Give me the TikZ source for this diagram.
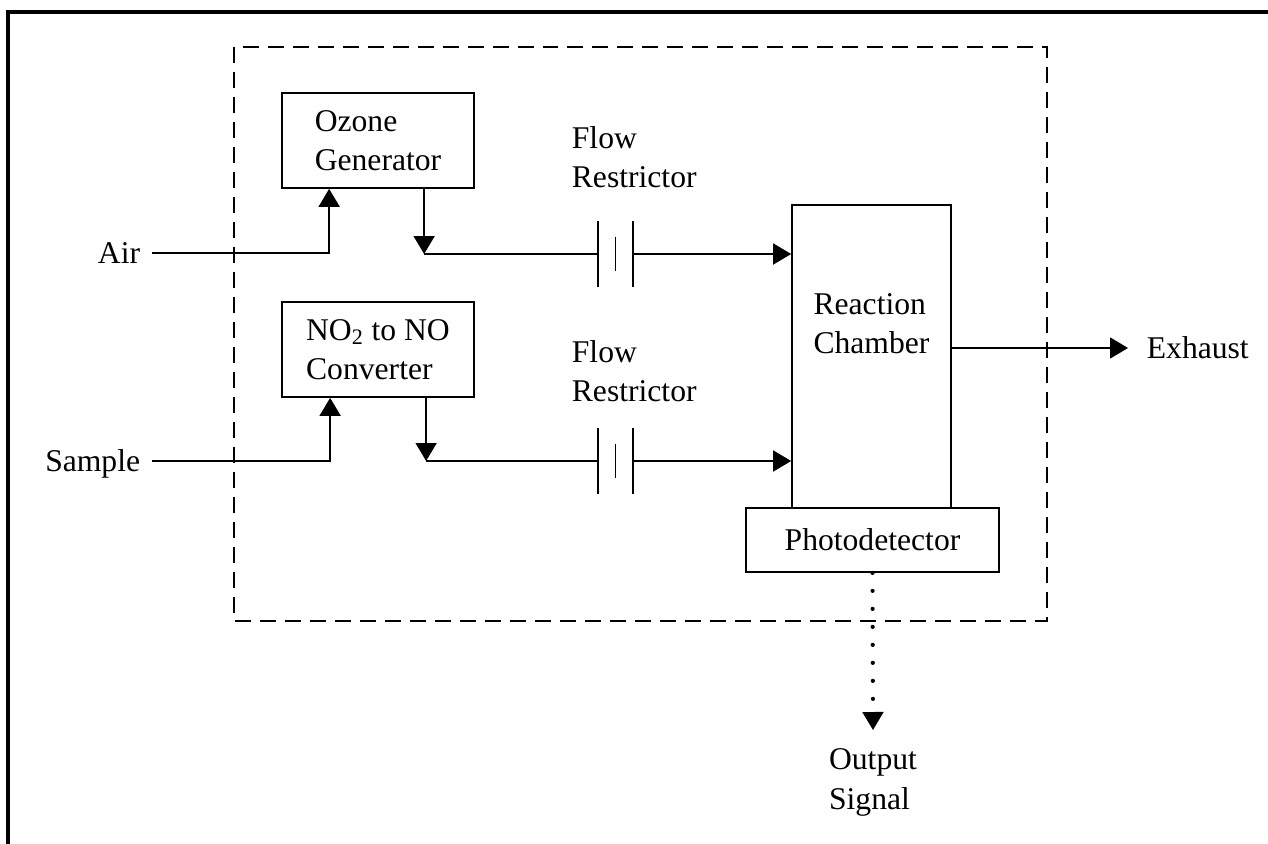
\documentclass[tikz,border=0pt]{standalone}
\usepackage{fontspec}
\setmainfont{Liberation Serif}
\usetikzlibrary{arrows.meta}

\begin{document}
\begin{tikzpicture}[x=0.02cm,y=-0.02cm,line width=1pt,
		every node/.style={font=\fontsize{18}{22.4}\selectfont},
		box/.style={draw,align=left,inner sep=0pt},
		lbl/.style={align=left,inner sep=0pt},
		flow/.style={-{Triangle[length=0.36cm,width=0.42cm]}}]
		\useasboundingbox (0,0) rectangle (1268,844);
		% frame and instrument outline
		\draw[line width=1.8pt] (8,844) -- (8,12) -- (1268,12);
		\draw[dash pattern=on 0.32cm off 0.18cm,line width=1.1pt] (234,47) rectangle (1047,621);
		% blocks
		\node[box,minimum width=3.84cm,minimum height=1.9cm] (oz) at (378,140.5) {Ozone\\Generator};
		\node[box,minimum width=3.84cm,minimum height=1.9cm] (cv) at (378,349.5) {NO\textsubscript{2} to NO\\Converter};
		\node[box,minimum width=3.18cm,minimum height=6.06cm] (rc) at (871.5,356.5) {};
		\node[lbl] (rct) at (871.5,324) {Reaction\\Chamber};
		\node[box,minimum width=5.06cm,minimum height=1.28cm] (pd) at (872.5,540) {Photodetector};
		\node[minimum width=0.66cm,minimum height=1.28cm,inner sep=0pt] (rs1) at (615.5,254) {};
		\node[minimum width=0.66cm,minimum height=1.28cm,inner sep=0pt] (rs2) at (615.5,461) {};
		\foreach \r in {rs1,rs2} {
			\draw (\r.north west) -- (\r.south west) (\r.north east) -- (\r.south east)
				([yshift=0.35cm]\r.center) -- ([yshift=-0.35cm]\r.center);
		}
		% labels
		\node[lbl,anchor=west] (fl1) at (571,157) {Flow\\Restrictor};
		\node[lbl,anchor=west] (fl2) at (571,371) {Flow\\Restrictor};
		\node[lbl,anchor=east,inner sep=0.22cm,text depth=0pt] (air) at (152,253) {Air};
		\node[lbl,anchor=east,inner sep=0.22cm,text depth=0pt] (smp) at (152,461) {Sample};
		\node[lbl,anchor=west,inner sep=0.36cm,text depth=0pt] (ex) at (1128,348) {Exhaust};
		\node[lbl,anchor=north,inner sep=0.36cm] (os) at (873,730) {Output\\Signal};
		% gas paths
		\coordinate (ozout) at ([xshift=2.86cm]oz.south west);
		\coordinate (cvout) at ([xshift=2.9cm]cv.south west);
		\draw[flow] (air.east) -| ([xshift=0.96cm]oz.south west);
		\draw[flow] (smp.east) -| ([xshift=0.98cm]cv.south west);
		\draw[flow] (ozout) -- (ozout |- rs1.west);
		\draw[flow] (cvout) -- (cvout |- rs2.west);
		\draw (ozout |- rs1.west) -- (rs1.west);
		\draw (cvout |- rs2.west) -- (rs2.west);
		\draw[flow] (rs1.east) -- (rs1.east -| rc.west);
		\draw[flow] (rs2.east) -- (rs2.east -| rc.west);
		\draw[flow] (rc.east |- ex.west) -- (ex.west);
		\draw[-{Triangle[length=0.36cm,width=0.42cm,line width=1pt]},line cap=round,line width=2.4pt,dash pattern=on 0pt off 0.36cm] (pd.south) -- (os.north);
	\end{tikzpicture}
\end{document}
